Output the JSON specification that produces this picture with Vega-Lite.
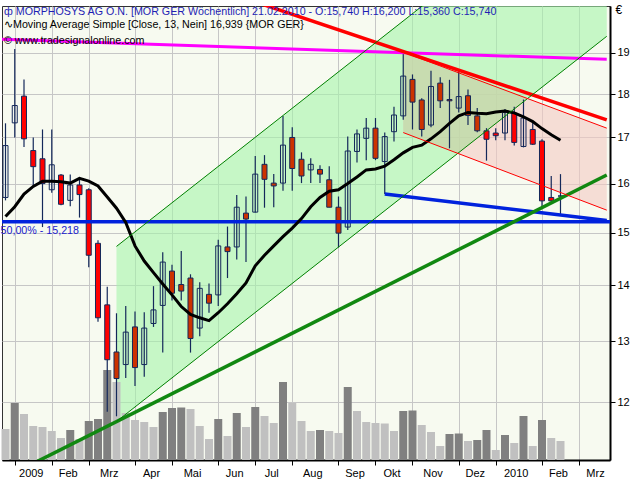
{
  "$schema": "https://vega.github.io/schema/vega-lite/v6.json",
  "width": 608,
  "height": 454,
  "autosize": "none",
  "padding": {"left": 2, "top": 6, "right": 30, "bottom": 20},
  "background": "#FFFFFF",
  "config": {
    "view": {"fill": "#F7FAF0", "stroke": "#333333", "strokeWidth": 1},
    "font": "Liberation Sans",
    "axis": {"labelFont": "Liberation Sans", "titleFont": "Liberation Sans"}
  },
  "title": {
    "text": "ф  MORPHOSYS AG O.N. [MOR GER  Wöchentlich] 21.02.2010 - O:15,740 H:16,200 L:15,360 C:15,740",
    "subtitle": ["∿Moving Average Simple [Close, 13, Nein] 16,939 {MOR GER}", "© www.tradesignalonline.com"],
    "anchor": "start",
    "frame": "group",
    "orient": "top",
    "offset": -44,
    "dx": 2,
    "font": "Liberation Sans",
    "fontSize": 10.7,
    "fontWeight": "normal",
    "color": "#1e1eb4",
    "subtitleFont": "Liberation Sans",
    "subtitleFontSize": 10.7,
    "subtitleColor": "#000000",
    "subtitlePadding": 3,
    "subtitleLineHeight": 16
  },
  "datasets": {
    "weeks": [
      {"date": "2008-12-22", "open": 15.71, "high": 17.32, "low": 15.65, "close": 16.82, "ma13": 15.32, "volume": 310000, "change": "down"},
      {"date": "2008-12-29", "open": 17.33, "high": 19.10, "low": 17.00, "close": 17.73, "ma13": 15.52, "volume": 570000, "change": "up"},
      {"date": "2009-01-05", "open": 17.95, "high": 18.35, "low": 16.79, "close": 16.97, "ma13": 15.78, "volume": 460000, "change": "down"},
      {"date": "2009-01-12", "open": 16.71, "high": 17.00, "low": 15.94, "close": 16.36, "ma13": 15.94, "volume": 340000, "change": "down"},
      {"date": "2009-01-19", "open": 16.53, "high": 17.18, "low": 15.11, "close": 16.00, "ma13": 16.05, "volume": 330000, "change": "down"},
      {"date": "2009-01-26", "open": 15.87, "high": 17.18, "low": 15.81, "close": 16.40, "ma13": 16.05, "volume": 290000, "change": "down"},
      {"date": "2009-02-02", "open": 16.18, "high": 16.20, "low": 15.55, "close": 15.57, "ma13": 16.04, "volume": 220000, "change": "down"},
      {"date": "2009-02-09", "open": 15.65, "high": 16.19, "low": 15.53, "close": 15.97, "ma13": 16.01, "volume": 300000, "change": "up"},
      {"date": "2009-02-16", "open": 15.97, "high": 16.14, "low": 15.30, "close": 15.77, "ma13": 16.11, "volume": 210000, "change": "down"},
      {"date": "2009-02-23", "open": 15.87, "high": 15.90, "low": 14.33, "close": 14.56, "ma13": 16.05, "volume": 390000, "change": "up"},
      {"date": "2009-03-02", "open": 14.79, "high": 14.85, "low": 13.34, "close": 13.41, "ma13": 15.95, "volume": 410000, "change": "up"},
      {"date": "2009-03-09", "open": 13.64, "high": 13.97, "low": 11.85, "close": 12.69, "ma13": 15.72, "volume": 900000, "change": "up"},
      {"date": "2009-03-16", "open": 12.82, "high": 13.49, "low": 11.78, "close": 12.38, "ma13": 15.49, "volume": 780000, "change": "down"},
      {"date": "2009-03-23", "open": 12.61, "high": 13.62, "low": 12.39, "close": 13.16, "ma13": 15.20, "volume": 470000, "change": "down"},
      {"date": "2009-03-30", "open": 13.25, "high": 13.52, "low": 12.26, "close": 12.56, "ma13": 14.74, "volume": 400000, "change": "down"},
      {"date": "2009-04-06", "open": 12.61, "high": 13.51, "low": 12.41, "close": 13.23, "ma13": 14.45, "volume": 380000, "change": "down"},
      {"date": "2009-04-13", "open": 13.31, "high": 13.98, "low": 13.25, "close": 13.55, "ma13": 14.23, "volume": 330000, "change": "down"},
      {"date": "2009-04-20", "open": 13.63, "high": 14.62, "low": 12.81, "close": 14.43, "ma13": 14.02, "volume": 480000, "change": "up"},
      {"date": "2009-04-27", "open": 14.26, "high": 14.38, "low": 13.72, "close": 13.85, "ma13": 13.82, "volume": 520000, "change": "up"},
      {"date": "2009-05-04", "open": 14.01, "high": 14.64, "low": 13.72, "close": 13.89, "ma13": 13.61, "volume": 525000, "change": "up"},
      {"date": "2009-05-11", "open": 14.13, "high": 14.20, "low": 12.81, "close": 13.05, "ma13": 13.47, "volume": 510000, "change": "down"},
      {"date": "2009-05-18", "open": 13.23, "high": 14.05, "low": 13.09, "close": 13.94, "ma13": 13.41, "volume": 340000, "change": "down"},
      {"date": "2009-05-25", "open": 13.83, "high": 14.03, "low": 13.50, "close": 13.67, "ma13": 13.36, "volume": 210000, "change": "down"},
      {"date": "2009-06-01", "open": 13.82, "high": 14.86, "low": 13.62, "close": 14.74, "ma13": 13.50, "volume": 410000, "change": "up"},
      {"date": "2009-06-08", "open": 14.72, "high": 15.12, "low": 14.13, "close": 14.63, "ma13": 13.66, "volume": 240000, "change": "down"},
      {"date": "2009-06-15", "open": 14.72, "high": 15.76, "low": 14.48, "close": 15.51, "ma13": 13.84, "volume": 470000, "change": "up"},
      {"date": "2009-06-22", "open": 15.39, "high": 15.73, "low": 14.43, "close": 15.27, "ma13": 14.04, "volume": 330000, "change": "down"},
      {"date": "2009-06-29", "open": 15.41, "high": 16.59, "low": 15.40, "close": 16.20, "ma13": 14.36, "volume": 530000, "change": "up"},
      {"date": "2009-07-06", "open": 16.41, "high": 16.61, "low": 15.50, "close": 16.09, "ma13": 14.56, "volume": 440000, "change": "down"},
      {"date": "2009-07-13", "open": 16.01, "high": 16.20, "low": 15.51, "close": 15.95, "ma13": 14.74, "volume": 370000, "change": "down"},
      {"date": "2009-07-20", "open": 16.01, "high": 17.49, "low": 15.85, "close": 16.83, "ma13": 14.92, "volume": 780000, "change": "up"},
      {"date": "2009-07-27", "open": 17.00, "high": 17.23, "low": 15.85, "close": 16.32, "ma13": 15.09, "volume": 570000, "change": "down"},
      {"date": "2009-08-03", "open": 16.52, "high": 16.67, "low": 16.01, "close": 16.16, "ma13": 15.28, "volume": 390000, "change": "down"},
      {"date": "2009-08-10", "open": 16.29, "high": 16.54, "low": 16.01, "close": 16.41, "ma13": 15.52, "volume": 290000, "change": "down"},
      {"date": "2009-08-17", "open": 16.30, "high": 16.39, "low": 16.01, "close": 16.20, "ma13": 15.71, "volume": 300000, "change": "up"},
      {"date": "2009-08-24", "open": 16.08, "high": 16.37, "low": 15.51, "close": 15.51, "ma13": 15.84, "volume": 290000, "change": "down"},
      {"date": "2009-08-31", "open": 15.51, "high": 15.73, "low": 14.71, "close": 14.99, "ma13": 15.87, "volume": 270000, "change": "down"},
      {"date": "2009-09-07", "open": 15.11, "high": 17.02, "low": 15.05, "close": 16.70, "ma13": 16.00, "volume": 730000, "change": "up"},
      {"date": "2009-09-14", "open": 16.69, "high": 17.18, "low": 16.45, "close": 17.08, "ma13": 16.14, "volume": 490000, "change": "down"},
      {"date": "2009-09-21", "open": 16.98, "high": 17.44, "low": 16.50, "close": 17.21, "ma13": 16.29, "volume": 380000, "change": "down"},
      {"date": "2009-09-28", "open": 17.21, "high": 17.44, "low": 16.50, "close": 16.54, "ma13": 16.31, "volume": 370000, "change": "down"},
      {"date": "2009-10-05", "open": 16.47, "high": 17.11, "low": 15.78, "close": 17.02, "ma13": 16.37, "volume": 365000, "change": "down"},
      {"date": "2009-10-12", "open": 17.13, "high": 17.70, "low": 16.91, "close": 17.51, "ma13": 16.51, "volume": 290000, "change": "down"},
      {"date": "2009-10-19", "open": 17.49, "high": 18.99, "low": 17.40, "close": 18.43, "ma13": 16.66, "volume": 490000, "change": "up"},
      {"date": "2009-10-26", "open": 18.35, "high": 18.47, "low": 17.18, "close": 17.81, "ma13": 16.78, "volume": 495000, "change": "up"},
      {"date": "2009-11-02", "open": 17.86, "high": 17.90, "low": 17.02, "close": 17.18, "ma13": 16.83, "volume": 350000, "change": "down"},
      {"date": "2009-11-09", "open": 17.28, "high": 18.56, "low": 17.23, "close": 18.18, "ma13": 16.97, "volume": 280000, "change": "down"},
      {"date": "2009-11-16", "open": 18.26, "high": 18.40, "low": 17.67, "close": 17.84, "ma13": 17.13, "volume": 140000, "change": "down"},
      {"date": "2009-11-23", "open": 17.87, "high": 18.34, "low": 16.76, "close": 17.84, "ma13": 17.32, "volume": 260000, "change": "up"},
      {"date": "2009-11-30", "open": 17.67, "high": 18.54, "low": 17.57, "close": 17.94, "ma13": 17.49, "volume": 265000, "change": "up"},
      {"date": "2009-12-07", "open": 17.96, "high": 18.11, "low": 17.28, "close": 17.50, "ma13": 17.57, "volume": 190000, "change": "down"},
      {"date": "2009-12-14", "open": 17.49, "high": 17.67, "low": 17.12, "close": 17.15, "ma13": 17.55, "volume": 200000, "change": "up"},
      {"date": "2009-12-21", "open": 17.15, "high": 17.21, "low": 16.49, "close": 16.96, "ma13": 17.54, "volume": 300000, "change": "up"},
      {"date": "2009-12-28", "open": 17.10, "high": 17.21, "low": 16.94, "close": 17.04, "ma13": 17.58, "volume": 100000, "change": "down"},
      {"date": "2010-01-04", "open": 17.10, "high": 17.65, "low": 16.94, "close": 17.57, "ma13": 17.60, "volume": 250000, "change": "up"},
      {"date": "2010-01-11", "open": 17.55, "high": 17.70, "low": 16.82, "close": 16.89, "ma13": 17.56, "volume": 170000, "change": "down"},
      {"date": "2010-01-18", "open": 16.80, "high": 17.87, "low": 16.78, "close": 17.44, "ma13": 17.47, "volume": 440000, "change": "up"},
      {"date": "2010-01-25", "open": 17.18, "high": 17.33, "low": 16.83, "close": 16.85, "ma13": 17.36, "volume": 140000, "change": "down"},
      {"date": "2010-02-01", "open": 16.92, "high": 16.96, "low": 15.49, "close": 15.64, "ma13": 17.20, "volume": 400000, "change": "up"},
      {"date": "2010-02-08", "open": 15.71, "high": 16.16, "low": 15.62, "close": 15.64, "ma13": 17.06, "volume": 220000, "change": "down"},
      {"date": "2010-02-15", "open": 15.74, "high": 16.20, "low": 15.36, "close": 15.74, "ma13": 16.939, "volume": 190000, "change": "down"}
    ]
  },
  "encoding": {
    "x": {
      "field": "date",
      "type": "temporal",
      "scale": {
        "type": "utc",
        "nice": false,
        "padding": 0,
        "domain": [
          {"year": 2008, "month": 12, "date": 19, "hours": 8, "minutes": 24, "utc": true},
          {"year": 2010, "month": 3, "date": 24, "hours": 11, "minutes": 17, "utc": true}
        ]
      },
      "axis": {
        "title": null,
        "values": [
          {"year": 2008, "month": 12, "date": 29, "utc": true},
          {"year": 2009, "month": 1, "date": 26, "utc": true},
          {"year": 2009, "month": 2, "date": 23, "utc": true},
          {"year": 2009, "month": 3, "date": 30, "utc": true},
          {"year": 2009, "month": 4, "date": 27, "utc": true},
          {"year": 2009, "month": 6, "date": 1, "utc": true},
          {"year": 2009, "month": 6, "date": 29, "utc": true},
          {"year": 2009, "month": 7, "date": 27, "utc": true},
          {"year": 2009, "month": 8, "date": 31, "utc": true},
          {"year": 2009, "month": 9, "date": 28, "utc": true},
          {"year": 2009, "month": 10, "date": 26, "utc": true},
          {"year": 2009, "month": 11, "date": 30, "utc": true},
          {"year": 2009, "month": 12, "date": 28, "utc": true},
          {"year": 2010, "month": 2, "date": 1, "utc": true},
          {"year": 2010, "month": 3, "date": 1, "utc": true}
        ],
        "labelExpr": "utcmonth(datum.value + 518400000) == 0 ? '' + utcyear(datum.value + 518400000) : ['Jan','Feb','Mrz','Apr','Mai','Jun','Jul','Aug','Sep','Okt','Nov','Dez'][utcmonth(datum.value + 518400000)]",
        "labelOffset": {
          "condition": {
            "test": "(indexof([2,4,7,10], utcmonth(datum.value + 518400000)) >= 0 && utcyear(datum.value) == 2009) || (utcmonth(datum.value + 518400000) == 0 && utcyear(datum.value + 518400000) == 2010)",
            "value": 20
          },
          "value": 16
        },
        "grid": true,
        "gridColor": "#C6C6C6",
        "gridWidth": 1,
        "tickColor": "#000000",
        "tickSize": 5,
        "tickWidth": 1,
        "domainColor": "#000000",
        "domainWidth": 2,
        "labelFontSize": 11,
        "labelColor": "#000000",
        "labelPadding": 2,
        "labelFlush": false,
        "labelOverlap": false
      }
    }
  },
  "layer": [
    {
      "layer": [
        {
          "data": {"values": [{"date": "2009-03-16", "upper": 14.73, "lower": 11.70}, {"date": "2010-03-22", "upper": 24.46, "lower": 19.42}]},
          "mark": {"type": "area", "color": "#A5F5AA", "opacity": 0.6, "clip": true},
          "encoding": {
            "y": {"field": "upper", "type": "quantitative", "scale": {"type": "log", "domain": [11.122, 20.21], "nice": false}, "axis": null},
            "y2": {"field": "lower"}
          }
        },
        {
          "data": {"values": [{"date": "2009-10-19", "upper": 19.02, "lower": 17.11}, {"date": "2010-03-22", "upper": 17.21, "lower": 15.45}]},
          "mark": {"type": "area", "color": "#F4CAC3", "opacity": 0.6, "clip": true},
          "encoding": {
            "y": {"field": "upper", "type": "quantitative", "scale": {"type": "log", "domain": [11.122, 20.21], "nice": false}, "axis": null},
            "y2": {"field": "lower"}
          }
        },
        {
          "data": {"values": [
            {"date": "2009-10-19", "upper": 19.02, "lower": 17.11},
            {"date": "2009-11-29T08:24:00Z", "upper": 18.52, "lower": 16.65},
            {"date": "2010-01-21T04:19:00Z", "upper": 17.89, "lower": 17.89}
          ]},
          "mark": {"type": "area", "color": "#AFDC9C", "opacity": 0.5, "clip": true},
          "encoding": {
            "y": {"field": "upper", "type": "quantitative", "scale": {"type": "log", "domain": [11.122, 20.21], "nice": false}, "axis": null},
            "y2": {"field": "lower"}
          }
        }
      ]
    },
    {
      "data": {"name": "weeks"},
      "mark": {"type": "bar", "width": 8},
      "encoding": {
        "y": {"field": "volume", "type": "quantitative", "scale": {"domain": [0, 4540000], "nice": false}, "axis": null},
        "color": {"field": "change", "type": "nominal", "scale": {"domain": ["down", "up"], "range": ["#C0C0C0", "#808080"]}, "legend": null}
      }
    },
    {
      "layer": [
        {
          "data": {"name": "weeks"},
          "mark": {"type": "rule", "color": "#14285a", "strokeWidth": 1.2},
          "encoding": {
            "y": {
              "field": "low", "type": "quantitative",
              "scale": {"type": "log", "domain": [11.122, 20.21], "nice": false},
              "axis": {
                "orient": "right",
                "values": [12, 13, 14, 15, 16, 17, 18, 19],
                "format": "d",
                "grid": true,
                "gridColor": "#C6C6C6",
                "gridWidth": 1,
                "tickColor": "#000000",
                "tickSize": 5,
                "domainColor": "#000000",
                "domainWidth": 2,
                "labelFontSize": 11,
                "labelColor": "#000000",
                "labelPadding": 2,
                "labelOverlap": false,
                "title": "€",
                "titleAngle": 0,
                "titleAlign": "left",
                "titleBaseline": "middle",
                "titleX": 5,
                "titleY": 3,
                "titleFontWeight": "normal",
                "titleFontSize": 12,
                "titleColor": "#000000"
              }
            },
            "y2": {"field": "high"}
          }
        },
        {
          "data": {"name": "weeks"},
          "mark": {"type": "bar", "width": 5, "stroke": "#14285a", "strokeWidth": 1},
          "encoding": {
            "y": {"field": "open", "type": "quantitative", "scale": {"type": "log", "domain": [11.122, 20.21], "nice": false}},
            "y2": {"field": "close"},
            "fill": {
              "condition": [
                {"test": "datum.close < datum.open && datum.date >= utc(2009,2,16) && datum.date <= utc(2009,11,14)", "value": "#CC3300"},
                {"test": "datum.close < datum.open", "value": "#FF0000"}
              ],
              "value": "transparent"
            }
          }
        },
        {
          "data": {"values": [{"date": "2008-12-15", "price": 19.35}, {"date": "2010-03-22", "price": 18.84}]},
          "mark": {"type": "line", "color": "#FF00FF", "strokeWidth": 3, "clip": true},
          "encoding": {"y": {"field": "price", "type": "quantitative", "scale": {"type": "log", "domain": [11.122, 20.21], "nice": false}}}
        },
        {
          "data": {"values": [{"date": "2009-06-29", "price": 20.32}, {"date": "2010-03-22", "price": 17.40}]},
          "mark": {"type": "line", "color": "#FF0000", "strokeWidth": 3.5, "clip": true},
          "encoding": {"y": {"field": "price", "type": "quantitative", "scale": {"type": "log", "domain": [11.122, 20.21], "nice": false}}}
        },
        {
          "data": {"values": [{"date": "2008-12-15", "price": 15.218}, {"date": "2010-03-29", "price": 15.218}]},
          "mark": {"type": "line", "color": "#0022DD", "strokeWidth": 3.5, "clip": true},
          "encoding": {"y": {"field": "price", "type": "quantitative", "scale": {"type": "log", "domain": [11.122, 20.21], "nice": false}}}
        },
        {
          "data": {"values": [{"date": "2009-10-05", "price": 15.78}, {"date": "2010-03-22", "price": 15.24}]},
          "mark": {"type": "line", "color": "#0022DD", "strokeWidth": 3.5, "clip": true},
          "encoding": {"y": {"field": "price", "type": "quantitative", "scale": {"type": "log", "domain": [11.122, 20.21], "nice": false}}}
        },
        {
          "data": {"values": [{"date": "2008-12-22", "price": 10.87}, {"date": "2010-03-22", "price": 16.18}]},
          "mark": {"type": "line", "color": "#118811", "strokeWidth": 3.5, "clip": true},
          "encoding": {"y": {"field": "price", "type": "quantitative", "scale": {"type": "log", "domain": [11.122, 20.21], "nice": false}}}
        },
        {
          "data": {"name": "weeks"},
          "mark": {"type": "line", "color": "#000000", "strokeWidth": 3, "clip": true},
          "encoding": {"y": {"field": "ma13", "type": "quantitative", "scale": {"type": "log", "domain": [11.122, 20.21], "nice": false}}}
        },
        {
          "data": {"values": [
            {"date": "2009-03-16", "edge": "upper", "price": 14.73}, {"date": "2010-03-22", "edge": "upper", "price": 24.46},
            {"date": "2009-03-16", "edge": "lower", "price": 11.70}, {"date": "2010-03-22", "edge": "lower", "price": 19.42}
          ]},
          "mark": {"type": "line", "color": "#008000", "strokeWidth": 1, "clip": true},
          "encoding": {
            "y": {"field": "price", "type": "quantitative", "scale": {"type": "log", "domain": [11.122, 20.21], "nice": false}},
            "detail": {"field": "edge"}
          }
        },
        {
          "data": {"values": [
            {"date": "2009-10-19", "edge": "upper", "price": 19.02}, {"date": "2010-03-22", "edge": "upper", "price": 17.21},
            {"date": "2009-10-19", "edge": "lower", "price": 17.11}, {"date": "2010-03-22", "edge": "lower", "price": 15.45}
          ]},
          "mark": {"type": "line", "color": "#FF0000", "strokeWidth": 1, "clip": true},
          "encoding": {
            "y": {"field": "price", "type": "quantitative", "scale": {"type": "log", "domain": [11.122, 20.21], "nice": false}},
            "detail": {"field": "edge"}
          }
        },
        {
          "data": {"values": [{"date": "2008-12-19", "price": 15.218, "label": "50,00% - 15,218"}]},
          "mark": {"type": "text", "align": "left", "baseline": "top", "dy": 4, "dx": -1, "fontSize": 10.7, "color": "#1a1acc"},
          "encoding": {
            "y": {"field": "price", "type": "quantitative", "scale": {"type": "log", "domain": [11.122, 20.21], "nice": false}},
            "text": {"field": "label"}
          }
        }
      ]
    }
  ],
  "resolve": {"scale": {"y": "independent"}}
}
